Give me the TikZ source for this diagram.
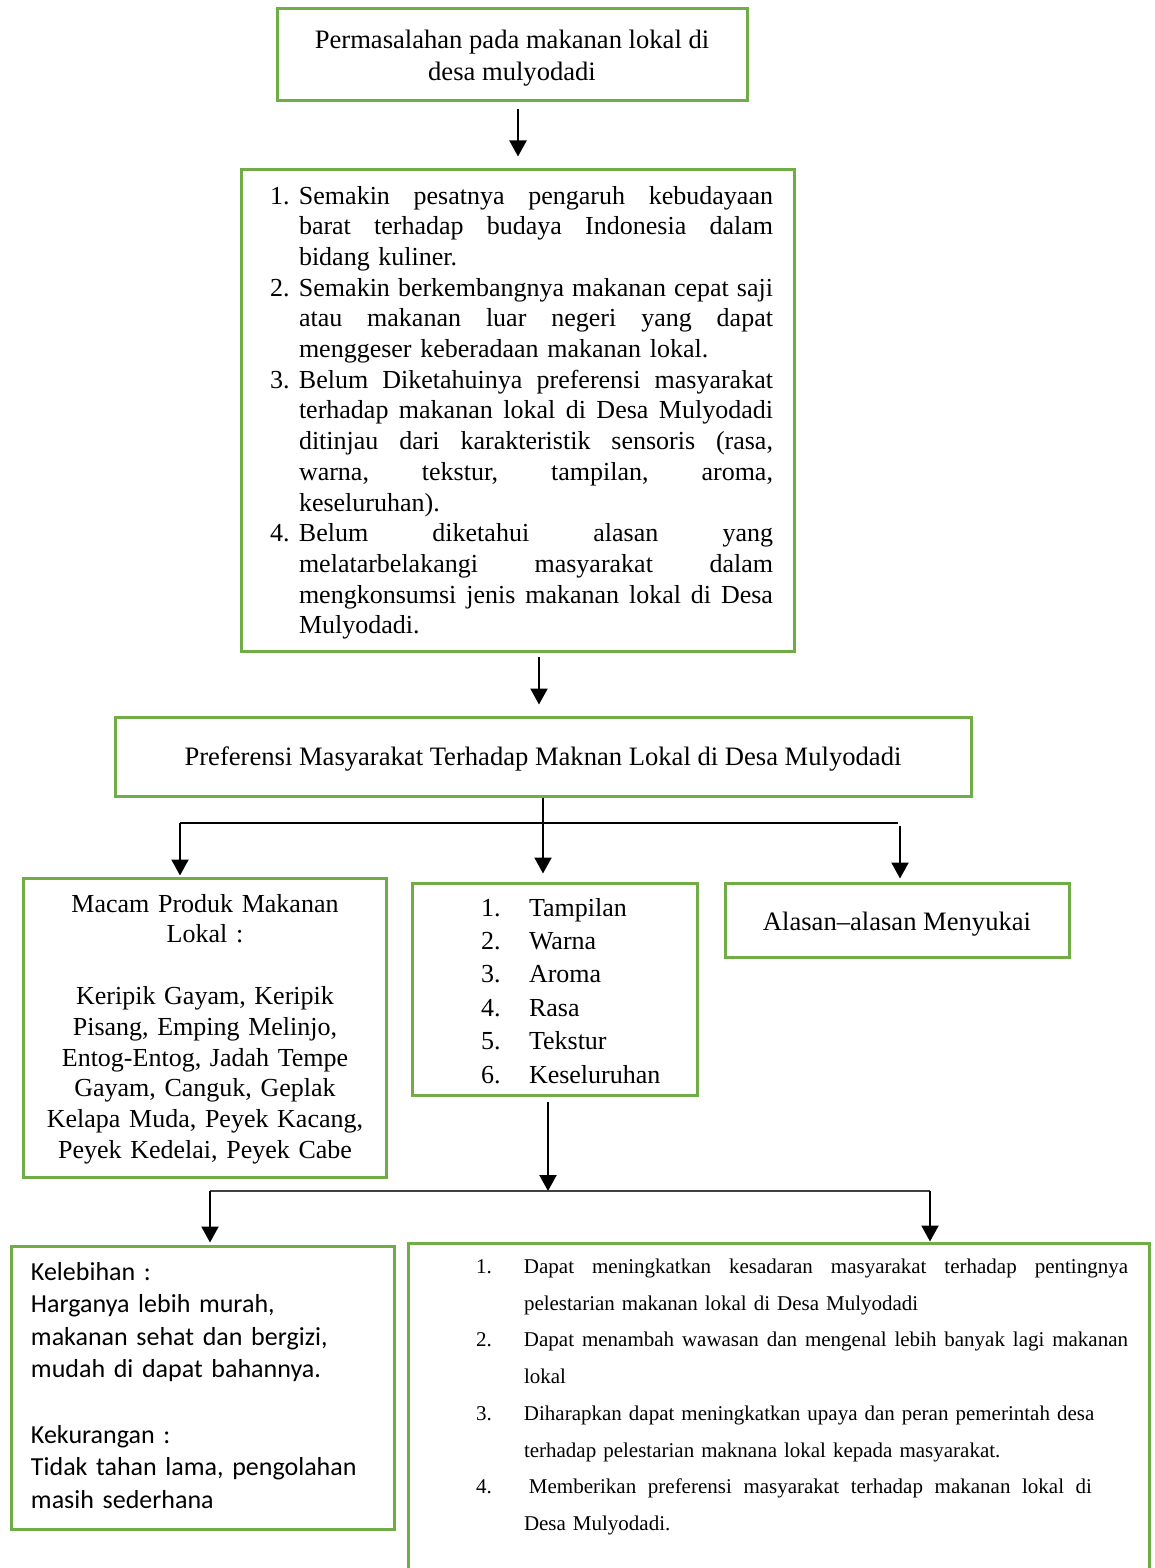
\documentclass[tikz,border=0pt]{standalone}
\usepackage{fontspec}
\setmainfont{Liberation Serif}
\newfontfamily\calfont{Carlito}
\usetikzlibrary{arrows.meta,calc}
\definecolor{gborder}{HTML}{70AD47}
\definecolor{dgray}{HTML}{404040}
\newcommand\JL[1]{\hbox to\linewidth{\spaceskip=\fontdimen2\font plus 1fil\relax #1}}
\newcommand\JW[2]{\hbox to#1{\spaceskip=\fontdimen2\font plus 1fil\relax #2}}
\newcommand\numitem[4]{\noindent\makebox[#1][l]{#2}\parbox[t]{#3}{#4\strut}\par\prevdepth=\dp\strutbox}
\begin{document}
\begin{tikzpicture}[x=0.5pt,y=-0.5pt,
  gbox/.style={draw=gborder,line width=1.5pt,inner sep=0pt,rectangle},
  txt/.style={inner sep=0pt,outer sep=0pt},
  tms/.style={font=\fontsize{13}{15.35}\selectfont},
  tmsb/.style={font=\fontsize{13.3}{16}\selectfont},
  arr/.style={line width=1.1pt,-{Triangle[length=8pt,width=8.5pt]}},
  hline/.style={line width=0.7pt}]
\clip (0,0) rectangle (1155,1568);
\fill[white] (0,0) rectangle (1155,1568);

% boxes
\node[gbox,minimum width=235pt,minimum height=46pt] (b1) at (512,55) {};
\node[gbox,minimum width=276.5pt,minimum height=241pt] (b2) at (517.5,410) {};
\node[gbox,minimum width=428pt,minimum height=39.5pt] (b3) at (543,756.5) {};
\node[gbox,minimum width=181.5pt,minimum height=149.5pt] (b4) at (204.5,1027.5) {};
\node[gbox,minimum width=142.5pt,minimum height=106pt] (b5) at (554.5,989) {};
\node[gbox,minimum width=172pt,minimum height=37pt] (b6) at (897,920) {};
\node[gbox,minimum width=191.5pt,minimum height=141.5pt] (b7) at (202.5,1387.5) {};
\node[gbox,minimum width=370.5pt,minimum height=178.5pt] (b8) at (778.5,1421.5) {};

% texts
\node[txt,tmsb,align=center] (t1) at (512,58)
  {Permasalahan pada makanan lokal di\\desa mulyodadi};

\node[txt,tms,anchor=north west,text width=251.5pt] (t2) at (270,186)
{\parskip=0pt
\numitem{14.5pt}{1.}{237pt}{\JL{Semakin pesatnya pengaruh kebudayaan}\JL{barat terhadap budaya Indonesia dalam}bidang kuliner.}
\numitem{14.5pt}{2.}{237pt}{\JL{Semakin berkembangnya makanan cepat saji}\JL{atau makanan luar negeri yang dapat}menggeser keberadaan makanan lokal.}
\numitem{14.5pt}{3.}{237pt}{\JL{Belum Diketahuinya preferensi masyarakat}\JL{terhadap makanan lokal di Desa Mulyodadi}\JL{ditinjau dari karakteristik sensoris (rasa,}\JL{warna, tekstur, tampilan, aroma,}keseluruhan).}
\numitem{14.5pt}{4.}{237pt}{\JL{Belum diketahui alasan yang}\JL{melatarbelakangi masyarakat dalam}\JL{mengkonsumsi jenis makanan lokal di Desa}Mulyodadi.}
};

\node[txt,tmsb] (t3) at (543,759)
  {Preferensi Masyarakat Terhadap Maknan Lokal di Desa Mulyodadi};

\node[txt,anchor=north,text width=178pt,align=center,font=\fontsize{13}{15.4}\selectfont] (t4) at (205,894)
  {Macam Produk Makanan\\Lokal :\\[15.4pt]Keripik Gayam, Keripik\\Pisang, Emping Melinjo,\\Entog-Entog, Jadah Tempe\\Gayam, Canguk, Geplak\\Kelapa Muda, Peyek Kacang,\\Peyek Kedelai, Peyek Cabe};

\node[txt,anchor=north west,text width=130pt,align=left,font=\fontsize{13}{16.7}\selectfont] (t5) at (481,898)
  {\makebox[24pt][l]{1.}Tampilan\\\makebox[24pt][l]{2.}Warna\\\makebox[24pt][l]{3.}Aroma\\\makebox[24pt][l]{4.}Rasa\\\makebox[24pt][l]{5.}Tekstur\\\makebox[24pt][l]{6.}Keseluruhan};

\node[txt,tmsb] (t6) at (897,924) {Alasan–alasan Menyukai};

\node[txt,anchor=north west,text width=180pt,align=left,font=\calfont\fontsize{13}{16.3}\selectfont] (t7) at (31,1262)
  {Kelebihan :\\Harganya lebih murah,\\makanan sehat dan bergizi,\\mudah di dapat bahannya.\\[16.3pt]Kekurangan :\\Tidak tahan lama, pengolahan\\masih sederhana};

\node[txt,anchor=north west,text width=326pt,font=\fontsize{10.5}{18.35}\selectfont] (t8) at (476,1259)
{\parskip=0pt
\numitem{24pt}{1.}{302pt}{\JL{Dapat meningkatkan kesadaran masyarakat terhadap pentingnya}pelestarian makanan lokal di Desa Mulyodadi}
\numitem{24pt}{2.}{302pt}{\JL{Dapat menambah wawasan dan mengenal lebih banyak lagi makanan}lokal}
\numitem{24pt}{3.}{302pt}{Diharapkan dapat meningkatkan upaya dan peran pemerintah desa\\terhadap pelestarian maknana lokal kepada masyarakat.}
\numitem{24pt}{4.}{302pt}{\hbox{\hspace*{2.5pt}\JW{281.5pt}{Memberikan preferensi masyarakat terhadap makanan lokal di}}Desa Mulyodadi.}
};

% connectors
\draw[arr] ($(b1.south)+(6,7)$) -- ($(b2.north)+(0.5,-11)$);
\draw[arr] ($(b2.south)+(21.5,4)$) -- ($(b3.north)+(-4,-11)$);
\coordinate (h1L) at (180,823);
\coordinate (h1R) at (898,823);
\draw[hline] (h1L) -- (h1R);
\draw[arr] (b3.south) -- ($(b5.north)+(-11.5,-8)$);
\draw[arr] (h1L) -- ($(h1L |- b4.north)+(0,-1)$);
\draw[arr] ($(h1R)+(2,3)$) -- ($(b6.north)+(3,-3)$);
\coordinate (h2L) at (210,1191);
\coordinate (h2M) at (548,1191);
\coordinate (h2R) at (930,1191);
\draw[arr] ($(b5.south)+(-6.5,5)$) -- (h2M);
\draw[hline,dgray] (h2L) -- (h2R);
\draw[arr] (h2L) -- ($(h2L |- b7.north)+(0,-2)$);
\draw[arr] (h2R) -- (h2R |- b8.north);
\end{tikzpicture}
\end{document}
